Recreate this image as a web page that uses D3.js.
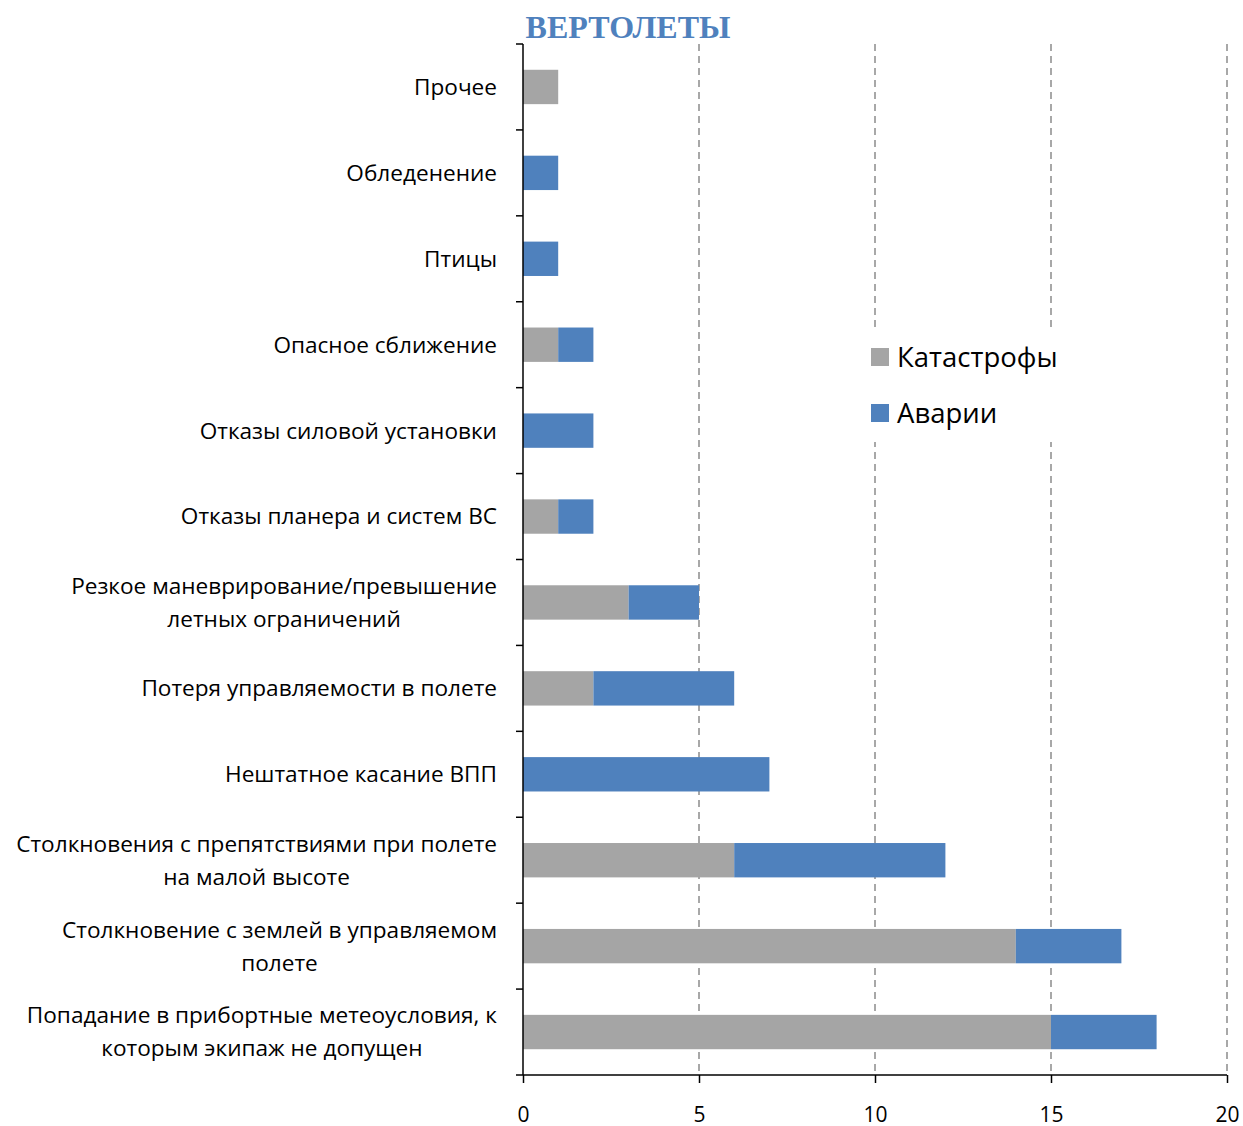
<!DOCTYPE html>
<html>
<head>
<meta charset="utf-8">
<script src="https://cdn.jsdelivr.net/npm/d3@7"></script>
<style>
  body { margin: 0; background: #fff; }
  text { font-family: "Open Sans", sans-serif; }
</style>
</head>
<body>
<script>
// вертолеты - причины, стек катастрофы + аварии
var categories = [
    ["Прочее"],
    ["Обледенение"],
    ["Птицы"],
    ["Опасное сближение"],
    ["Отказы силовой установки"],
    ["Отказы планера и систем ВС"],
    ["Резкое маневрирование/превышение", "летных ограничений"],
    ["Потеря управляемости в полете"],
    ["Нештатное касание ВПП"],
    ["Столкновения с препятствиями при полете", "на малой высоте"],
    ["Столкновение с землей в управляемом", "полете"],
    ["Попадание в прибортные метеоусловия, к", "которым экипаж не допущен"]
];
var katastrofy = [1, 0, 0, 1, 0, 1, 3, 2, 0, 6, 14, 15];
var avarii = [0, 1, 1, 1, 2, 1, 2, 4, 7, 6, 3, 3];
var xTicks = [0, 5, 10, 15, 20];
var seriesNames = ["Катастрофы", "Аварии"];

var colors = {"grey": "#a5a5a5", "blue": "#4f81bd"};
var W = 1243, H = 1126;
var plot = {"left": 523, "right": 1227, "top": 44, "bottom": 1075};

var svg = d3.select("body").append("svg")
    .attr("width", W)
    .attr("height", H);

var x = d3.scaleLinear().domain([0, 20]).range([plot.left, plot.right]);
var y = d3.scaleBand().domain(d3.range(categories.length))
    .range([plot.top, plot.bottom]).paddingInner(0.6).paddingOuter(0.3);
var yBand = d3.scaleBand().domain(d3.range(categories.length)).range([plot.top, plot.bottom]);

// dashed grid
svg.append("g").selectAll("line")
    .data(xTicks.slice(1))
    .enter().append("line")
    .attr("x1", function(d) { return x(d); })
    .attr("x2", function(d) { return x(d); })
    .attr("y1", plot.top)
    .attr("y2", plot.bottom)
    .style("stroke", "#8c8c8c")
    .style("stroke-width", 1.5)
    .style("stroke-dasharray", "7,5");

// bars
var stacked = d3.stack().keys([0, 1])(categories.map(function(c, i) {
    return {0: katastrofy[i], 1: avarii[i]};
}));
svg.append("g").selectAll("g")
    .data(stacked)
    .enter().append("g")
    .style("fill", function(d, i) { return i == 0 ? colors.grey : colors.blue; })
    .selectAll("rect")
    .data(function(d) { return d; })
    .enter().append("rect")
    .attr("x", function(d) { return x(d[0]); })
    .attr("width", function(d) { return x(d[1]) - x(d[0]); })
    .attr("y", function(d, i) { return y(i); })
    .attr("height", y.bandwidth());

// y axis (ticks between categories)
var yAxis = svg.append("g");
yAxis.append("line")
    .attr("x1", plot.left).attr("x2", plot.left)
    .attr("y1", plot.top).attr("y2", plot.bottom)
    .style("stroke", "#000").style("stroke-width", 1.5);
yAxis.selectAll("line.tk")
    .data(d3.range(categories.length))
    .enter().append("line")
    .attr("class", "tk")
    .attr("x1", plot.left - 7).attr("x2", plot.left)
    .attr("y1", function(d) { return yBand(d); })
    .attr("y2", function(d) { return yBand(d); })
    .style("stroke", "#000").style("stroke-width", 1.5);

// x axis
var xAxis = svg.append("g")
    .attr("transform", "translate(0," + plot.bottom + ")")
    .call(d3.axisBottom(x).tickValues(xTicks).tickSize(8).tickPadding(24).tickSizeOuter(0));
xAxis.select(".domain").attr("d", "M" + (plot.left - 7) + ",0H" + plot.right)
    .style("stroke-width", 1.5);
xAxis.selectAll(".tick line").style("stroke-width", 1.5);
xAxis.selectAll(".tick text")
    .style("font-family", "Open Sans, sans-serif")
    .style("font-size", "21px")
    .style("fill", "#000");

// category labels
var labels = svg.append("g").selectAll("g")
    .data(categories)
    .enter().append("g");
labels.each(function(lines, i) {
    var g = d3.select(this);
    var lh = 33;
    var cy = yBand(i) + yBand.bandwidth() / 2 - (lines.length - 1) * lh / 2;
    var ts = lines.map(function(t, k) {
        return g.append("text")
            .attr("y", cy + k * lh)
            .attr("dy", "0.35em")
            .style("font-size", "22.6px")
            .style("fill", "#000")
            .text(t);
    });
    var maxW = d3.max(ts, function(t) { return t.node().getComputedTextLength(); });
    ts.forEach(function(t) {
        t.attr("x", 497 - maxW / 2).attr("text-anchor", "middle");
    });
});

// legend with white box
var leg = svg.append("g");
leg.append("rect")
    .attr("x", 862).attr("y", 328)
    .attr("width", 205).attr("height", 114)
    .style("fill", "#fff");
leg.selectAll("rect.sw")
    .data(seriesNames)
    .enter().append("rect")
    .attr("class", "sw")
    .attr("x", 871)
    .attr("y", function(d, i) { return 348 + i * 56; })
    .attr("width", 18).attr("height", 18)
    .style("fill", function(d, i) { return i == 0 ? colors.grey : colors.blue; });
leg.selectAll("text")
    .data(seriesNames)
    .enter().append("text")
    .attr("x", 897)
    .attr("y", function(d, i) { return 357 + i * 56; })
    .attr("dy", "0.35em")
    .style("font-size", "27.5px")
    .style("fill", "#000")
    .text(function(d) { return d; });

// title
svg.append("text")
    .attr("x", 628).attr("y", 38)
    .attr("text-anchor", "middle")
    .style("font-family", "Liberation Serif, Times New Roman, serif")
    .style("font-weight", "bold")
    .style("font-size", "32px")
    .style("fill", colors.blue)
    .text("ВЕРТОЛЕТЫ");
</script>
</body>
</html>
